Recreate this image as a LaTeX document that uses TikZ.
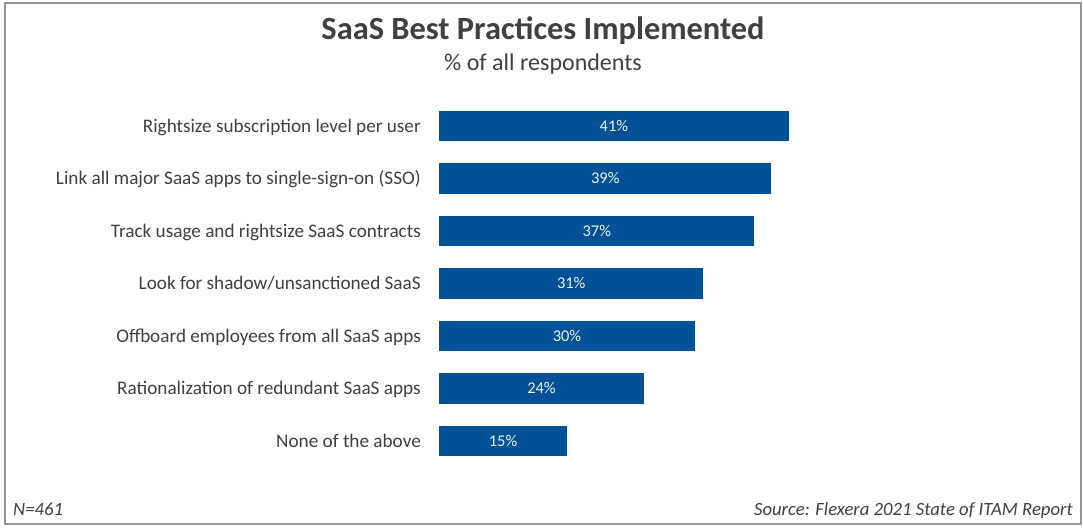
\documentclass[tikz,border=0pt]{standalone}
\usepackage{fontspec}
\setmainfont{Carlito}
\definecolor{barblue}{RGB}{0,81,150}
\definecolor{inkgray}{RGB}{64,64,64}
\definecolor{framegray}{RGB}{150,150,150}
\definecolor{valwhite}{RGB}{242,242,242}
\tikzset{
  hbar/.style={fill=barblue, draw=none, rectangle, inner sep=0pt, minimum height=30.5pt, anchor=west},
  catlabel/.style={anchor=base east, inner sep=0pt, text=inkgray, font=\fontsize{19.2}{21}\selectfont},
  vallabel/.style={inner sep=0pt, anchor=base, text=valwhite, font=\fontsize{16.4}{18}\selectfont},
  titletext/.style={anchor=base, inner sep=0pt, text=inkgray, font=\fontsize{32.4}{35}\selectfont\bfseries},
  subtext/.style={anchor=base, inner sep=0pt, text=inkgray, font=\fontsize{24}{26}\selectfont},
  notetext/.style={inner sep=0pt, text=inkgray, font=\fontsize{18.7}{20}\selectfont\itshape},
}
\begin{document}
\begin{tikzpicture}[x=1pt, y=-1pt]
  \useasboundingbox (0,0) rectangle (1083,529);
  \fill[white] (0,0) rectangle (1083,529);
  % outer frame
  \draw[framegray, line width=1.5pt] (5,3) rectangle (1081,524);

  % headings
  \node[titletext] (title) at (543,39.5) {SaaS Best Practices Implemented};
  \node[subtext] (subtitle) at (543,71) {\% of all respondents};

  % bars: category, value, vertical centre
  \foreach \i/\cat/\val/\yc in {
      1/Rightsize subscription level per user/41/126,
      2/Link all major SaaS apps to single-sign-on (SSO)/39/178.5,
      3/Track usage and rightsize SaaS contracts/37/231,
      4/Look for shadow\slash unsanctioned SaaS/31/283.5,
      5/Offboard employees from all SaaS apps/30/336,
      6/Rationalization of redundant SaaS apps/24/388.5,
      7/None of the above/15/441}{
    \node[hbar, minimum width=8.52*\val pt] (bar\i) at (439,\yc) {};
    \node[vallabel] (val\i) at ([yshift=-5.4pt]bar\i.center) {\val\%};
    \node[catlabel] (cat\i) at (421,\yc+6.2) {\cat};
  }

  % footnotes
  \node[notetext, anchor=base west] (n) at (13,515) {N=461};
  \node[notetext, anchor=base east] (src) at (1073,515) {Source: Flexera 2021 State of ITAM Report};
\end{tikzpicture}
\end{document}
